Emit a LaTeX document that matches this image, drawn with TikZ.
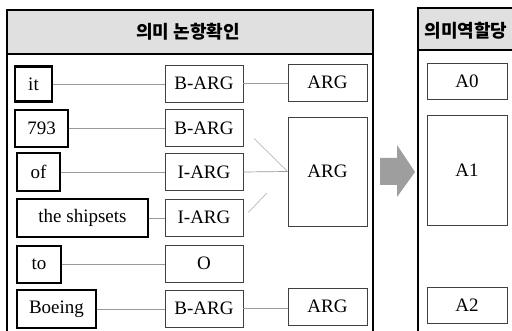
\documentclass[tikz,border=0pt]{standalone}
\usepackage{fontspec}
\setmainfont{Liberation Serif}
\newfontfamily\kr{Noto Sans CJK KR}
\begin{document}
\begin{tikzpicture}[x=1pt,y=-1pt,
  word/.style={draw=black,line width=2.2pt,fill=white,inner sep=0pt,font=\fontsize{19}{21}\selectfont},
  tag/.style={draw=black!75,line width=0.9pt,fill=white,inner sep=0pt,font=\fontsize{19}{21}\selectfont},
  panel/.style={draw=black,line width=2.2pt},
  hdr/.style={fill=black!12},
  link/.style={draw=black!40,line width=0.7pt},
  faint/.style={draw=black!28,line width=0.7pt},
  title/.style={font=\kr\bfseries\fontsize{18}{20}\selectfont}]
\useasboundingbox (0,0) rectangle (512,331);
\clip (0,0) rectangle (512,331);
% panels
\fill[hdr] (7,10) rectangle (373,54);
\draw[panel] (7,345) -- (7,10) -- (373,10) -- (373,345);
\draw[panel] (7,54) -- (373,54);
\node[title] (t1) at (188,32) {의미 논항확인};
\fill[hdr] (418,8) rectangle (520,50);
\draw[panel] (418,345) -- (418,8) -- (520,8);
\draw[panel] (418,50) -- (520,50);
\node[title] (t2) at (466,31) {의미역할당};
% words
\node[word,minimum width=37pt,minimum height=35pt] (w1) at (33.5,84) {it};
\node[word,minimum width=53pt,minimum height=37pt] (w2) at (41.5,128.5) {793};
\node[word,minimum width=43pt,minimum height=38pt] (w3) at (38.5,172) {of};
\node[word,minimum width=131pt,minimum height=38pt] (w4) at (82.5,218) {the shipsets};
\node[word,minimum width=44pt,minimum height=37pt] (w5) at (39,264.5) {to};
\node[word,minimum width=79pt,minimum height=38pt] (w6) at (56.5,309) {Boeing};
% tags
\node[tag,minimum width=78pt,minimum height=37pt] (g1) at (204,83.5) {B-ARG};
\node[tag,minimum width=78pt,minimum height=37pt] (g2) at (204,128) {B-ARG};
\node[tag,minimum width=78pt,minimum height=37pt] (g3) at (204,172) {I-ARG};
\node[tag,minimum width=78pt,minimum height=37pt] (g4) at (204,217.5) {I-ARG};
\node[tag,minimum width=78pt,minimum height=37pt] (g5) at (204,263.5) {O};
\node[tag,minimum width=78pt,minimum height=37pt] (g6) at (204,308.5) {B-ARG};
% args
\node[tag,minimum width=79pt,minimum height=37pt] (r1) at (327.5,82.5) {ARG};
\node[tag,minimum width=79pt,minimum height=109pt] (r2) at (327.5,171.5) {ARG};
\node[tag,minimum width=79pt,minimum height=37pt] (r3) at (327.5,306.5) {ARG};
% roles
\node[tag,minimum width=80pt,minimum height=36pt] (a0) at (467,81) {A0};
\node[tag,minimum width=80pt,minimum height=110pt] (a1) at (467,170) {A1};
\node[tag,minimum width=80pt,minimum height=36pt] (a2) at (467,305) {A2};
% connectors
\foreach \i in {1,...,6} {\draw[link] (w\i.east) -- (w\i.east -| g\i.west);}
\draw[link] (g1.east) -- (g1.east -| r1.west);
\draw[link] (g3.east) -- (r2.west);
\draw[link] (g6.east) -- (g6.east -| r3.west);
\draw[faint,shorten <=15pt] (g2.east) -- (r2.west);
\draw[faint,shorten <=7pt,shorten >=30pt] (g4.east) -- (r2.west);
% arrow
\fill[black!38] (380,158) -- (397,158) -- (397,145) -- (415,172) -- (397,197) -- (397,185) -- (380,185) -- cycle;
\end{tikzpicture}
\end{document}
